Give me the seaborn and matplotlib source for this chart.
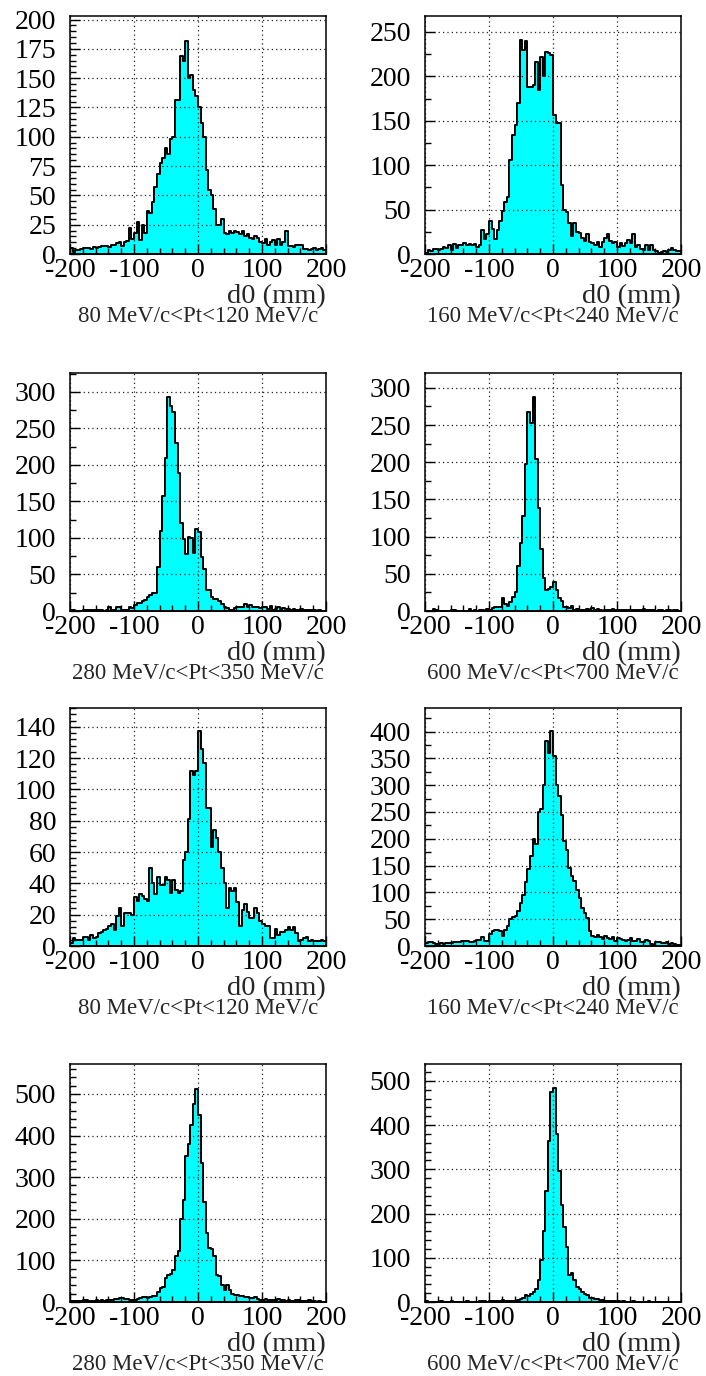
import numpy as np
import pandas as pd
import matplotlib
matplotlib.use("Agg")
import matplotlib.pyplot as plt
from matplotlib.ticker import MultipleLocator
import seaborn as sns

# ---------------- data ----------------
bin_lo, bin_hi, bin_w = -200, 200, 4                  # 100 bins of 4 mm
bin_centers = np.arange(bin_lo + bin_w / 2, bin_hi, bin_w)

pt_labels = [
    "80 MeV/c<Pt<120 MeV/c", "160 MeV/c<Pt<240 MeV/c",
    "280 MeV/c<Pt<350 MeV/c", "600 MeV/c<Pt<700 MeV/c",
    "80 MeV/c<Pt<120 MeV/c", "160 MeV/c<Pt<240 MeV/c",
    "280 MeV/c<Pt<350 MeV/c", "600 MeV/c<Pt<700 MeV/c",
]
x_label = "d0 (mm)"
x_ticks = [-200, -100, 0, 100, 200]

counts_1 = [5, 2, 3, 3, 4, 5, 5, 5, 4, 6,
            5, 6, 7, 7, 7, 6, 8, 8, 9, 10,
            7, 10, 11, 22, 13, 18, 27, 12, 25, 18,
            37, 35, 44, 57, 68, 78, 82, 90, 85, 98,
            100, 131, 131, 169, 165, 182, 150, 153, 140, 135,
            125, 112, 100, 72, 55, 50, 38, 25, 25, 30,
            18, 17, 20, 18, 20, 19, 17, 20, 15, 17,
            14, 13, 15, 14, 10, 9, 13, 8, 10, 12,
            8, 13, 8, 10, 20, 7, 7, 6, 8, 8,
            8, 4, 4, 3, 4, 5, 3, 4, 5, 3]
counts_2 = [1, 4, 3, 6, 6, 5, 6, 8, 7, 10,
            5, 11, 7, 10, 10, 12, 10, 11, 10, 11,
            8, 10, 27, 17, 22, 37, 28, 17, 27, 37,
            48, 58, 64, 106, 134, 145, 170, 241, 230, 240,
            188, 188, 190, 216, 185, 222, 200, 228, 226, 224,
            156, 147, 147, 78, 50, 47, 35, 20, 35, 25,
            24, 18, 15, 22, 14, 12, 10, 13, 8, 13,
            18, 22, 15, 12, 14, 8, 12, 9, 12, 16,
            12, 22, 8, 10, 6, 5, 10, 5, 10, 5,
            3, 1, 2, 3, 2, 5, 7, 4, 3, 3]
counts_3 = [1, 1, 0, 0, 0, 2, 2, 2, 2, 1,
            1, 1, 1, 0, 2, 5, 1, 1, 5, 5,
            1, 2, 1, 5, 4, 8, 11, 11, 14, 15,
            19, 22, 24, 25, 60, 110, 158, 210, 293, 281,
            273, 230, 189, 120, 98, 78, 101, 100, 80, 112,
            108, 74, 57, 29, 29, 19, 17, 16, 14, 10,
            6, 4, 2, 2, 4, 5, 6, 6, 9, 5,
            8, 5, 6, 5, 4, 6, 5, 3, 7, 2,
            3, 5, 2, 4, 3, 3, 2, 3, 2, 1,
            3, 2, 1, 2, 1, 2, 0, 1, 0, 0]
counts_4 = [0, 0, 0, 3, 1, 0, 0, 0, 0, 0,
            1, 2, 0, 0, 0, 0, 0, 3, 0, 1,
            0, 1, 2, 0, 3, 1, 4, 5, 5, 5,
            17, 9, 7, 12, 19, 26, 61, 92, 128, 198,
            267, 253, 288, 205, 138, 84, 44, 28, 29, 32,
            39, 28, 18, 13, 6, 5, 4, 7, 2, 3,
            2, 2, 1, 3, 1, 4, 1, 3, 1, 0,
            1, 2, 2, 3, 1, 1, 2, 1, 1, 1,
            2, 1, 2, 1, 1, 3, 2, 1, 2, 1,
            0, 2, 1, 0, 2, 1, 0, 1, 1, 0]
counts_5 = [2, 5, 4, 4, 4, 6, 6, 4, 7, 5,
            6, 8, 9, 10, 11, 13, 14, 10, 19, 24,
            13, 21, 21, 21, 20, 31, 29, 33, 32, 30,
            29, 50, 40, 33, 44, 39, 39, 44, 42, 34,
            42, 36, 34, 35, 55, 60, 81, 112, 109, 112,
            137, 126, 117, 88, 88, 63, 74, 69, 60, 50,
            40, 24, 37, 35, 37, 28, 13, 23, 27, 22,
            18, 18, 24, 21, 16, 14, 13, 13, 5, 5,
            11, 7, 9, 9, 10, 12, 10, 12, 8, 3,
            4, 5, 6, 3, 4, 3, 3, 3, 4, 3]
counts_6 = [5, 7, 7, 5, 3, 3, 5, 4, 5, 6,
            6, 7, 8, 8, 10, 10, 9, 7, 8, 10,
            11, 12, 16, 10, 9, 22, 28, 29, 29, 28,
            18, 30, 37, 50, 55, 56, 65, 80, 95, 120,
            143, 167, 200, 190, 250, 255, 300, 382, 360, 402,
            355, 300, 280, 245, 195, 180, 145, 130, 122, 105,
            90, 70, 62, 52, 28, 18, 16, 20, 17, 13,
            18, 15, 13, 16, 10, 14, 13, 12, 10, 11,
            14, 10, 9, 13, 8, 7, 12, 9, 3, 2,
            7, 7, 6, 6, 7, 3, 5, 4, 2, 1]
counts_7 = [2, 2, 3, 2, 3, 6, 5, 2, 3, 3,
            5, 3, 4, 3, 4, 5, 5, 7, 8, 9,
            10, 8, 7, 5, 5, 6, 7, 10, 13, 12,
            10, 12, 14, 15, 25, 33, 35, 58, 65, 67,
            78, 110, 122, 200, 245, 350, 380, 425, 475, 513,
            450, 335, 240, 165, 130, 127, 110, 65, 63, 40,
            30, 40, 28, 20, 18, 17, 15, 14, 12, 12,
            10, 9, 12, 8, 6, 5, 8, 6, 4, 5,
            3, 7, 4, 4, 3, 5, 3, 2, 4, 5,
            2, 3, 2, 4, 2, 3, 1, 2, 1, 0]
counts_8 = [2, 1, 1, 1, 0, 1, 2, 1, 1, 1,
            2, 1, 0, 1, 1, 1, 2, 1, 0, 1,
            1, 2, 3, 2, 1, 3, 3, 2, 2, 3,
            5, 2, 2, 3, 2, 3, 4, 7, 10, 15,
            14, 17, 22, 30, 50, 95, 160, 250, 365, 475,
            483, 380, 295, 220, 170, 125, 60, 65, 50, 35,
            30, 22, 18, 15, 10, 8, 6, 6, 4, 4,
            3, 3, 2, 3, 2, 2, 1, 2, 1, 1,
            1, 2, 1, 1, 0, 1, 1, 2, 1, 1,
            1, 0, 1, 1, 1, 0, 1, 1, 0, 1]

all_counts = [counts_1, counts_2, counts_3, counts_4,
              counts_5, counts_6, counts_7, counts_8]

# axis ranges / tick spacing per panel
y_max = [203, 268, 326, 320, 152, 444, 572, 538]
y_major = [25, 50, 50, 50, 20, 50, 100, 100]
y_minor = [5, 25, 25, 25, 4, 25, 20, 20]

# ---------------- style ----------------
sns.set_style("white")
plt.rcParams["font.family"] = ["Liberation Serif", "DejaVu Serif"]
plt.rcParams["axes.unicode_minus"] = False

W, H = 706, 1376
fig = plt.figure(figsize=(W / 100, H / 100), dpi=100)

col_left = [70, 425]
row_top = [16, 373, 708, 1064]
ax_w, ax_h = 256, 238

for i, counts in enumerate(all_counts):
    r, c = divmod(i, 2)
    ax = fig.add_axes([col_left[c] / W, 1 - (row_top[r] + ax_h) / H, ax_w / W, ax_h / H])
    df = pd.DataFrame({"d0": bin_centers, "n": counts})
    sns.histplot(data=df, x="d0", weights="n", binwidth=bin_w, binrange=(bin_lo, bin_hi),
                 element="step", fill=True, facecolor="#00ffff", edgecolor="black",
                 alpha=1, linewidth=1.4, ax=ax, zorder=2)
    ax.set_xlim(bin_lo, bin_hi)
    ax.set_ylim(0, y_max[i])
    ax.set_xticks(x_ticks)
    ax.xaxis.set_minor_locator(MultipleLocator(20))
    ax.yaxis.set_major_locator(MultipleLocator(y_major[i]))
    ax.yaxis.set_minor_locator(MultipleLocator(y_minor[i]))
    ax.tick_params(axis="both", which="both", direction="in", top=False, right=False,
                   bottom=True, left=True, colors="black", labelsize=20)
    ax.tick_params(axis="both", which="major", length=7, width=1)
    ax.tick_params(axis="both", which="minor", length=4.5, width=1)
    ax.tick_params(axis="x", which="major", pad=3)
    ax.tick_params(axis="y", which="major", pad=10)
    ax.grid(True, which="major", color="#222222", linestyle=(0, (1, 2.5)), linewidth=0.9)
    ax.set_axisbelow(False)
    for s in ax.spines.values():
        s.set_color("black")
        s.set_linewidth(1.1)
        s.set_zorder(5)
    ax.set_xlabel("")
    ax.set_ylabel("")
    ax.text(1.0, -49 / ax_h, x_label, transform=ax.transAxes, ha="right",
            va="baseline", fontsize=20.5)
    ax.text(0.5, -68 / ax_h, pt_labels[i], transform=ax.transAxes, ha="center",
            va="baseline", fontsize=16.5)

fig.savefig("out.png", dpi=100, facecolor="white")
